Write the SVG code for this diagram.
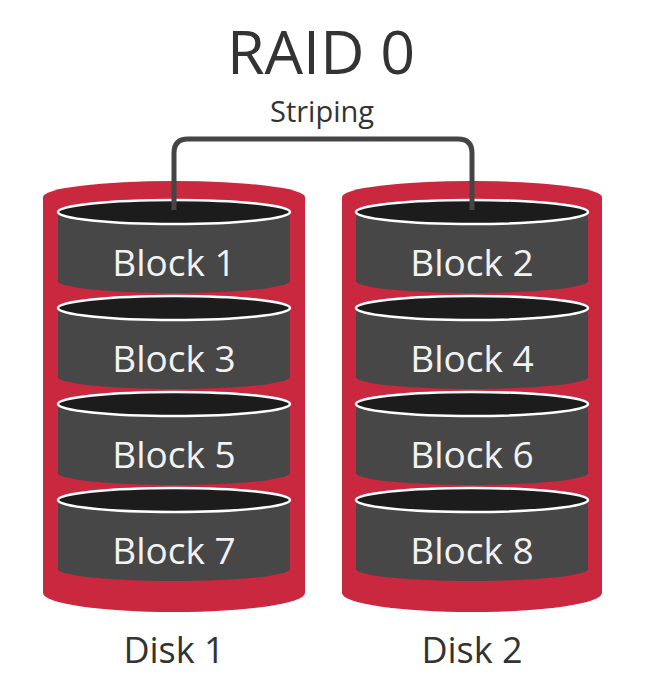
<svg xmlns="http://www.w3.org/2000/svg" width="658" height="677" viewBox="0 0 658 677">
<style>
.t{font-family:"Open Sans","Noto Sans","Liberation Sans",sans-serif;fill:#333;text-anchor:middle}
.bl{font-family:"Open Sans","Noto Sans","Liberation Sans",sans-serif;fill:#f2f2f2;text-anchor:middle;font-size:37px}
.cyl{fill:#c9283f}
.body{fill:#474747}
.top{fill:#1c1c1c;stroke:#ffffff;stroke-width:2.5}
.conn{fill:none;stroke:#454545;stroke-width:5}
</style>
<defs>
<g id="disk">
<path class="body" d="M-116,0 L-116,69 A116,12 0 0 0 116,69 L116,0 Z"/>
<ellipse class="top" cx="0" cy="0" rx="116" ry="12"/>
</g>
</defs>
<rect width="658" height="677" fill="#ffffff"/>
<text class="t" x="321" y="74" font-size="61">RAID 0</text>
<text class="t" x="322" y="122" font-size="29">Striping</text>
<g id="disk1">
<path class="cyl" d="M43,197 A131,16 0 0 1 305,197 L305,593 A131,19 0 0 1 43,593 Z"/>
<g id="block1"><use href="#disk" x="174" y="212"/><text class="bl" x="174" y="276">Block 1</text></g>
<g id="block3"><use href="#disk" x="174" y="308"/><text class="bl" x="174" y="372">Block 3</text></g>
<g id="block5"><use href="#disk" x="174" y="404"/><text class="bl" x="174" y="468">Block 5</text></g>
<g id="block7"><use href="#disk" x="174" y="500"/><text class="bl" x="174" y="564">Block 7</text></g>
<text class="t" x="174" y="663" font-size="36">Disk 1</text>
</g>
<g id="disk2">
<path class="cyl" d="M342,197 A130,16 0 0 1 602,197 L602,593 A130,19 0 0 1 342,593 Z"/>
<g id="block2"><use href="#disk" x="472" y="212"/><text class="bl" x="472" y="276">Block 2</text></g>
<g id="block4"><use href="#disk" x="472" y="308"/><text class="bl" x="472" y="372">Block 4</text></g>
<g id="block6"><use href="#disk" x="472" y="404"/><text class="bl" x="472" y="468">Block 6</text></g>
<g id="block8"><use href="#disk" x="472" y="500"/><text class="bl" x="472" y="564">Block 8</text></g>
<text class="t" x="472" y="663" font-size="36">Disk 2</text>
</g>
<g id="connectors">
<path class="conn" d="M174,210 L174,153 Q174,139 188,139 L458,139 Q472,139 472,153 L472,210"/>
</g>
</svg>
